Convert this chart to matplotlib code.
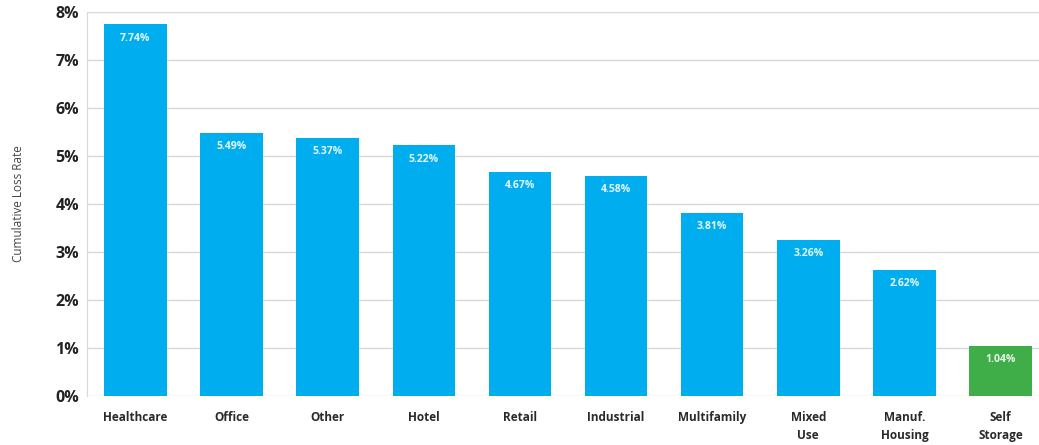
import numpy as np
import matplotlib.pyplot as plt

categories = ["Healthcare", "Office", "Other", "Hotel", "Retail", "Industrial",
              "Multifamily", "Mixed\nUse", "Manuf.\nHousing", "Self\nStorage"]
loss_rate = [7.74, 5.49, 5.37, 5.22, 4.67, 4.58, 3.81, 3.26, 2.62, 1.04]
value_labels = ["7.74%", "5.49%", "5.37%", "5.22%", "4.67%", "4.58%",
                "3.81%", "3.26%", "2.62%", "1.04%"]
yticks = [0, 1, 2, 3, 4, 5, 6, 7, 8]

blue = "#00aeef"
green = "#3fae49"
colors = [blue] * 9 + [green]

plt.rcParams['font.family'] = ['Open Sans', 'DejaVu Sans']

fig = plt.figure(figsize=(10.39, 4.45), dpi=100)
ax = fig.add_axes([0.084, 0.11, 0.916, 0.863])

x = np.arange(len(categories))
bars = ax.bar(x, loss_rate, width=0.65, color=colors, zorder=2)

for b, lab in zip(bars, value_labels):
    ax.text(b.get_x() + b.get_width() / 2, b.get_height() - 0.17, lab,
            ha="center", va="top", color="white", fontsize=7.5, fontweight="bold",
            alpha=0.9, zorder=3)

ax.set_xlim(-0.5, 9.4)
ax.set_ylim(0, 8)
ax.set_yticks(yticks)
ax.set_yticklabels([f"{t}%" for t in yticks], fontsize=11.5, fontweight="bold", color="#222222")
ax.set_xticks(x)
ax.set_xticklabels(categories, fontsize=8.5, fontweight="bold", color="#2a2a2a", linespacing=1.5)
ax.tick_params(axis="both", length=0)
ax.tick_params(axis="x", pad=11)
ax.tick_params(axis="y", pad=6)

ax.grid(axis="y", color="#d8d8d8", linewidth=1, zorder=0)
for s in ["top", "right", "bottom"]:
    ax.spines[s].set_visible(False)
ax.spines["left"].set_color("#d8d8d8")

ax.set_ylabel("Cumulative Loss Rate", fontsize=8.5, color="#444444", labelpad=22)

fig.savefig("out.png", dpi=100)
